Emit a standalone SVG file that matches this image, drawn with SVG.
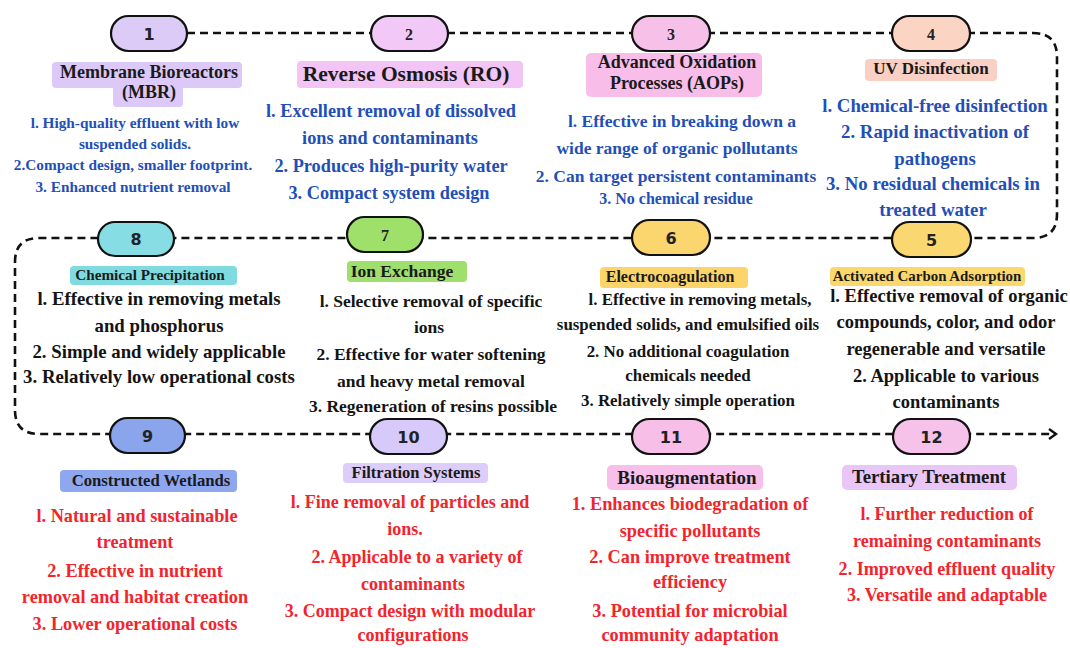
<svg xmlns="http://www.w3.org/2000/svg" width="1070" height="648" viewBox="0 0 1070 648">
<defs>
<style>
.pill{stroke:#111;stroke-width:2.2}
.num{font-weight:bold;font-size:16px;fill:#222;text-anchor:middle}
.ttl{font-weight:bold;fill:#1a1a1a;text-anchor:middle}
.b{font-weight:bold;text-anchor:middle;white-space:pre}
.blue{fill:#1f4fb8}
.blk{fill:#141414}
.red{fill:#f2242c}
.flow{fill:none;stroke:#111;stroke-width:2.6;stroke-dasharray:8 5}
</style>
<marker id="arr" viewBox="0 0 12 12" refX="10" refY="6" markerWidth="12" markerHeight="12" markerUnits="userSpaceOnUse" orient="auto">
<polyline points="3,1 10,6 3,11" fill="none" stroke="#111" stroke-width="2.4"/>
</marker>
</defs>
<rect width="1070" height="648" fill="#fff"/>
<g id="connectors">
<path class="flow" d="M187,33 H1033 Q1057,33 1057,57 V214 Q1057,238 1033,238 H39 Q15,238 15,262 V410 Q15,434 39,434 H1056" marker-end="url(#arr)"/>
</g>
<g id="nodes" font-family="Liberation Serif, 'Times New Roman', serif">
<g id="node1">
<rect class="pill" x="111" y="16" width="76" height="35" rx="17.5" fill="#dccbf7"/>
<text class="num" font-family="DejaVu Sans, sans-serif" x="149" y="39.5">1</text>
<rect x="52" y="62" width="190" height="26" rx="4" fill="#dcc9f7"/>
<rect x="113" y="84" width="70" height="23" rx="4" fill="#dcc9f7"/>
<text class="ttl" x="149" y="78" font-size="18">Membrane Bioreactors</text>
<text class="ttl" x="149" y="98" font-size="18">(MBR)</text>
<g class="b blue" font-size="15.3">
<text x="135" y="128">l.  High-quality effluent with low</text>
<text x="135" y="149">suspended solids.</text>
<text x="133" y="170">2.Compact design, smaller footprint.</text>
<text x="133" y="192">3. Enhanced nutrient removal</text>
</g>
</g>
<g id="node2">
<rect class="pill" x="371" y="16" width="77" height="35" rx="17.5" fill="#f1c8f6"/>
<text class="num" font-size="17" x="409" y="39.5">2</text>
<rect x="297" y="61" width="226" height="27" rx="4" fill="#f2c5f6"/>
<text class="ttl" x="406" y="81" font-size="21.5">Reverse Osmosis (RO)</text>
<g class="b blue" font-size="18.3">
<text x="391" y="117">l.   Excellent removal of dissolved</text>
<text x="390" y="144">ions and contaminants</text>
<text x="391" y="172">2. Produces high-purity water</text>
<text x="389" y="199">3. Compact system design</text>
</g>
</g>
<g id="node3">
<rect class="pill" x="632" y="16" width="78" height="35" rx="17.5" fill="#f7c0e8"/>
<text class="num" font-size="17" x="671" y="39.5">3</text>
<rect x="586" y="53" width="176" height="44" rx="5" fill="#f8bde8"/>
<text class="ttl" x="677" y="68" font-size="18">Advanced Oxidation</text>
<text class="ttl" x="677" y="89" font-size="18">Processes (AOPs)</text>
<g class="b blue" font-size="17.5">
<text x="682" y="127">l. Effective in breaking down a</text>
<text x="677" y="154">wide range of organic pollutants</text>
<text x="676" y="182">2. Can target persistent contaminants</text>
<text x="676" y="204" font-size="16">3. No chemical residue</text>
</g>
</g>
<g id="node4">
<rect class="pill" x="892" y="16" width="78" height="35" rx="17.5" fill="#fcd4c4"/>
<text class="num" font-size="17" x="931" y="39.5">4</text>
<rect x="865" y="59" width="132" height="22" rx="4" fill="#fbd0c4"/>
<text class="ttl" x="931" y="74" font-size="17">UV Disinfection</text>
<g class="b blue" font-size="18.8">
<text x="935" y="112">l.  Chemical-free disinfection</text>
<text x="935" y="138">2.  Rapid inactivation of</text>
<text x="935" y="165">pathogens</text>
<text x="933" y="190">3. No residual chemicals in</text>
<text x="933" y="216">treated water</text>
</g>
</g>
<g id="node5">
<rect class="pill" x="892" y="222" width="79" height="35" rx="17.5" fill="#fbd771"/>
<text class="num" font-family="DejaVu Sans, sans-serif" x="931.5" y="245.5">5</text>
<rect x="830" y="267" width="195" height="19" rx="4" fill="#fbd86b"/>
<text class="ttl" x="927" y="281" font-size="14.9">Activated Carbon Adsorption</text>
<g class="b blk" font-size="18.5">
<text x="949" y="302">l. Effective removal of organic</text>
<text x="946" y="328">compounds, color, and odor</text>
<text x="946" y="355">regenerable and versatile</text>
<text x="946" y="382">2. Applicable to various</text>
<text x="946" y="408">contaminants</text>
</g>
</g>
<g id="node6">
<rect class="pill" x="632" y="220" width="78" height="35" rx="17.5" fill="#fbd56e"/>
<text class="num" font-family="DejaVu Sans, sans-serif" x="671" y="243.5">6</text>
<rect x="600" y="267" width="148" height="21" rx="4" fill="#fbd56a"/>
<text class="ttl" x="670" y="282" font-size="16">Electrocoagulation</text>
<g class="b blk" font-size="16.9">
<text x="700" y="305">l.  Effective in removing metals,</text>
<text x="688" y="330">suspended solids, and emulsified oils</text>
<text x="688" y="357">2. No additional coagulation</text>
<text x="688" y="381">chemicals needed</text>
<text x="688" y="406">3. Relatively simple operation</text>
</g>
</g>
<g id="node7">
<rect class="pill" x="347" y="217" width="76" height="35" rx="17.5" fill="#9fe06b"/>
<text class="num" font-size="17" x="385" y="240.5">7</text>
<rect x="347" y="261" width="120" height="21" rx="4" fill="#9fe06c"/>
<text class="ttl" x="402" y="277" font-size="17.5">Ion Exchange</text>
<g class="b blk" font-size="17.5">
<text x="431" y="307">l.  Selective removal of specific</text>
<text x="429" y="333">ions</text>
<text x="431" y="360">2. Effective for water softening</text>
<text x="431" y="387">and heavy metal removal</text>
<text x="433" y="412">3. Regeneration of resins possible</text>
</g>
</g>
<g id="node8">
<rect class="pill" x="98" y="222" width="76" height="34" rx="17" fill="#86dde3"/>
<text class="num" font-family="DejaVu Sans, sans-serif" x="136" y="245">8</text>
<rect x="70" y="266" width="167" height="19" rx="4" fill="#7fdbe0"/>
<text class="ttl" x="150" y="280" font-size="15.2">Chemical Precipitation</text>
<g class="b blk" font-size="18.8">
<text x="159" y="305">l.  Effective in removing metals</text>
<text x="159" y="332">and phosphorus</text>
<text x="159" y="358">2. Simple and widely applicable</text>
<text x="159" y="383">3. Relatively low operational costs</text>
</g>
</g>
<g id="node9">
<rect class="pill" x="110" y="418" width="75" height="35" rx="17.5" fill="#8aa5ec"/>
<text class="num" font-family="DejaVu Sans, sans-serif" x="147.5" y="441.5">9</text>
<rect x="60" y="470" width="177" height="22" rx="4" fill="#8ea7ee"/>
<text class="ttl" x="151" y="486" font-size="16.7">Constructed Wetlands</text>
<g class="b red" font-size="18.3">
<text x="137" y="522">l.  Natural and sustainable</text>
<text x="135" y="548">treatment</text>
<text x="135" y="577">2. Effective in nutrient</text>
<text x="135" y="603">removal and habitat creation</text>
<text x="135" y="630">3. Lower operational costs</text>
</g>
</g>
<g id="node10">
<rect class="pill" x="370" y="419" width="77" height="35" rx="17.5" fill="#d7c9fa"/>
<text class="num" font-family="DejaVu Sans, sans-serif" x="408.5" y="442.5">10</text>
<rect x="343" y="463" width="145" height="20" rx="4" fill="#dccdfa"/>
<text class="ttl" x="416" y="478" font-size="16.5">Filtration Systems</text>
<g class="b red" font-size="18">
<text x="410" y="508">l. Fine removal of particles and</text>
<text x="405" y="535">ions.</text>
<text x="417" y="563">2. Applicable to a variety of</text>
<text x="413" y="590">contaminants</text>
<text x="410" y="617">3. Compact design with modular</text>
<text x="413" y="641">configurations</text>
</g>
</g>
<g id="node11">
<rect class="pill" x="632" y="419" width="78" height="35" rx="17.5" fill="#f7bee8"/>
<text class="num" font-family="DejaVu Sans, sans-serif" x="671" y="442.5">11</text>
<rect x="607" y="465" width="156" height="25" rx="5" fill="#f7bfe9"/>
<text class="ttl" x="687" y="484" font-size="19">Bioaugmentation</text>
<g class="b red" font-size="18.3">
<text x="690" y="510">1. Enhances biodegradation of</text>
<text x="690" y="537">specific pollutants</text>
<text x="690" y="563">2. Can improve treatment</text>
<text x="690" y="588">efficiency</text>
<text x="690" y="617">3. Potential for microbial</text>
<text x="690" y="641">community adaptation</text>
</g>
</g>
<g id="node12">
<rect class="pill" x="893" y="419" width="77" height="35" rx="17.5" fill="#f7c2ea"/>
<text class="num" font-family="DejaVu Sans, sans-serif" x="931.5" y="442.5">12</text>
<rect x="842" y="465" width="175" height="25" rx="5" fill="#eac6f8"/>
<text class="ttl" x="929" y="483" font-size="18.8">Tertiary Treatment</text>
<g class="b red" font-size="18.1">
<text x="947" y="520">l. Further reduction of</text>
<text x="947" y="547">remaining contaminants</text>
<text x="947" y="575">2. Improved effluent quality</text>
<text x="947" y="601">3. Versatile and adaptable</text>
</g>
</g>
</g>
</svg>
